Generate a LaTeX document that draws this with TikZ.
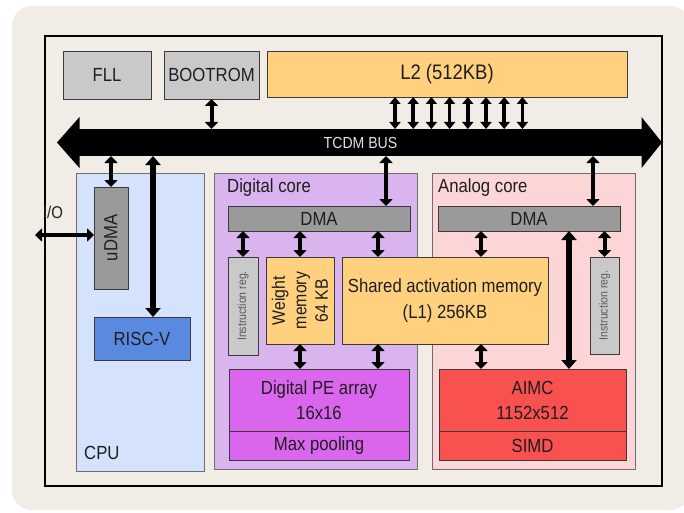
\documentclass[tikz,border=0pt]{standalone}
\usepackage{fontspec}
\setmainfont[FakeStretch=0.88]{Liberation Sans}
\usetikzlibrary{arrows.meta}
\definecolor{beige}{HTML}{F1ECE5}
\definecolor{boxedge}{HTML}{3A3A3A}
\definecolor{coreedge}{HTML}{6E6E6E}
\definecolor{txt}{HTML}{1E1E1E}
\definecolor{lgray}{HTML}{C9C9C9}
\definecolor{mgray}{HTML}{9A9A9A}
\definecolor{orangeY}{HTML}{FFD17F}
\definecolor{cpublue}{HTML}{D4E3FB}
\definecolor{riscblue}{HTML}{5A8AE0}
\definecolor{lav}{HTML}{DAB4EF}
\definecolor{pinkc}{HTML}{FCD6D7}
\definecolor{magen}{HTML}{DA66EE}
\definecolor{redc}{HTML}{F85150}
\definecolor{buslabel}{HTML}{E2E2E2}
\begin{document}
\begin{tikzpicture}[x=1pt,y=-1pt,
  box/.style={draw=boxedge, line width=0.9pt, inner sep=0pt, outer sep=0pt,
    anchor=north west, text=txt, font=\fontsize{19}{22}\selectfont},
  core/.style={draw=coreedge, line width=0.9pt, inner sep=0pt, outer sep=0pt, anchor=north west},
  lbl/.style={text=txt, font=\fontsize{19}{22}\selectfont, inner sep=0pt},
  dbl/.style={line width=4pt, arrows={Triangle[width=13pt,length=7pt]-Triangle[width=13pt,length=7pt]}},
  dbltwo/.style={line width=3.5pt, arrows={Triangle[width=11pt,length=7pt]-Triangle[width=11pt,length=7pt]}},
  dblbig/.style={line width=6pt, arrows={Triangle[width=15pt,length=9pt]-Triangle[width=15pt,length=9pt]}}
]
\useasboundingbox (0,0) rectangle (684,513);
\fill[white] (0,0) rectangle (684,513);
\fill[beige, rounded corners=20pt] (12,6) rectangle (690,510);
\draw[black, line width=2pt] (45,36) rectangle (662,486);

% top row
\node[box, fill=lgray, minimum width=88, minimum height=48] (fll) at (63,51) {FLL};
\node[box, fill=lgray, minimum width=95, minimum height=48] (boot) at (164,51) {BOOTROM};
\node[box, fill=orangeY, minimum width=360, minimum height=46, font=\fontsize{21}{24}\selectfont] (l2) at (267,51) {L2 (512KB)};

% bus
\node[fill=black, minimum width=563, minimum height=27, anchor=north west, inner sep=0pt, outer sep=0pt,
  text=buslabel, font=\fontsize{16}{18}\selectfont] (bus) at (79,129) {TCDM BUS};
\fill[black] (79.5,117) -- (57,142.5) -- (79.5,168) -- cycle;
\fill[black] (641.5,117) -- (662,142.5) -- (641.5,168) -- cycle;

% core backgrounds
\node[core, fill=cpublue, minimum width=128, minimum height=298] (cpu) at (76,173) {};
\node[core, fill=lav, minimum width=203, minimum height=296] (dcore) at (214,173) {};
\node[core, fill=pinkc, minimum width=203, minimum height=296] (acore) at (432,173) {};

% CPU
\node[lbl, anchor=west] (cpulbl) at (84,453) {CPU};
\node[box, fill=mgray, minimum width=34, minimum height=102] (udma) at (94,187) {};
\node[lbl, rotate=90] (udmatxt) at (udma.center) {uDMA};
\node[box, fill=riscblue, minimum width=96, minimum height=43] (risc) at (94,317) {RISC-V};
\node[lbl, font=\fontsize{17}{20}\selectfont] (iolbl) at (53,212) {I/O};

% Digital core
\node[lbl, anchor=west] (dcorelbl) at (227,188) {Digital core};
\node[box, fill=mgray, minimum width=182, minimum height=25] (dmad) at (228,206) {DMA};
\node[box, fill=lgray, minimum width=30, minimum height=98] (instrd) at (228,257) {};
\node[lbl, rotate=90, text=black!65, font=\fontsize{12}{13}\selectfont] (instrdtxt) at (instrd.center) {Instruction reg.};
\node[box, fill=orangeY, minimum width=68, minimum height=87] (wmem) at (266,257) {};
\node[lbl, rotate=90, align=center, font=\fontsize{18}{21.5}\selectfont] (wmemtxt) at (wmem.center) {Weight\\memory\\64 KB};
\node[box, fill=orangeY, minimum width=206, minimum height=87, align=center, font=\fontsize{19}{26}\selectfont] (shared) at (342,257) {Shared activation memory\\(L1) 256KB};
\node[box, fill=magen, minimum width=180, minimum height=62, align=center, font=\fontsize{19}{25}\selectfont] (pe) at (229,369) {Digital PE array\\16x16};
\node[box, fill=magen, minimum width=180, minimum height=29] (maxp) at (229,431) {Max pooling};

% Analog core
\node[lbl, anchor=west] (acorelbl) at (438,188) {Analog core};
\node[box, fill=mgray, minimum width=182, minimum height=25] (dmaa) at (438,206) {DMA};
\node[box, fill=lgray, minimum width=29, minimum height=97] (instra) at (590,257) {};
\node[lbl, rotate=90, text=black!65, font=\fontsize{12}{13}\selectfont] (instratxt) at (instra.center) {Instruction reg.};
\node[box, fill=redc, minimum width=187, minimum height=62, align=center, font=\fontsize{19}{25}\selectfont] (aimc) at (439,369) {AIMC\\1152x512};
\node[box, fill=redc, minimum width=187, minimum height=29] (simd) at (439,431) {SIMD};

% x positions of connectors
\coordinate (xrisc) at (153,0);
\coordinate (xdd) at (386,0);
\coordinate (xda) at (593,0);
\coordinate (xsh) at (378,0);
\coordinate (xsa) at (481,0);
\coordinate (xbig) at (569,0);
\coordinate (io) at (35,235);

% connectors
\draw[dbl] (boot.south) -- (boot.south |- bus.north);
\foreach \i in {0,...,7} {
  \coordinate (la\i) at ({395+18.2*\i},0);
  \draw[dbltwo] (l2.south -| la\i) -- (bus.north -| la\i);
}
\draw[dbl] (bus.south -| udma.north) -- (udma.north);
\draw[dblbig] (bus.south -| xrisc) -- (risc.north -| xrisc);
\draw[dbl] (io) -- (io -| udma.west);
\draw[dbl] (bus.south -| xdd) -- (dmad.north -| xdd);
\draw[dbl] (bus.south -| xda) -- (dmaa.north -| xda);

\draw[dbl] (dmad.south -| instrd.north) -- (instrd.north);
\draw[dbl] (dmad.south -| wmem.north) -- (wmem.north);
\draw[dbl] (dmad.south -| xsh) -- (shared.north -| xsh);
\draw[dbl] (wmem.south) -- (pe.north -| wmem.south);
\draw[dbl] (shared.south -| xsh) -- (pe.north -| xsh);

\draw[dbl] (dmaa.south -| xsa) -- (shared.north -| xsa);
\draw[dbl] (shared.south -| xsa) -- (aimc.north -| xsa);
\draw[dblbig] (dmaa.south -| xbig) -- (aimc.north -| xbig);
\draw[dbl] (dmaa.south -| instra.north) -- (instra.north);
\end{tikzpicture}
\end{document}
